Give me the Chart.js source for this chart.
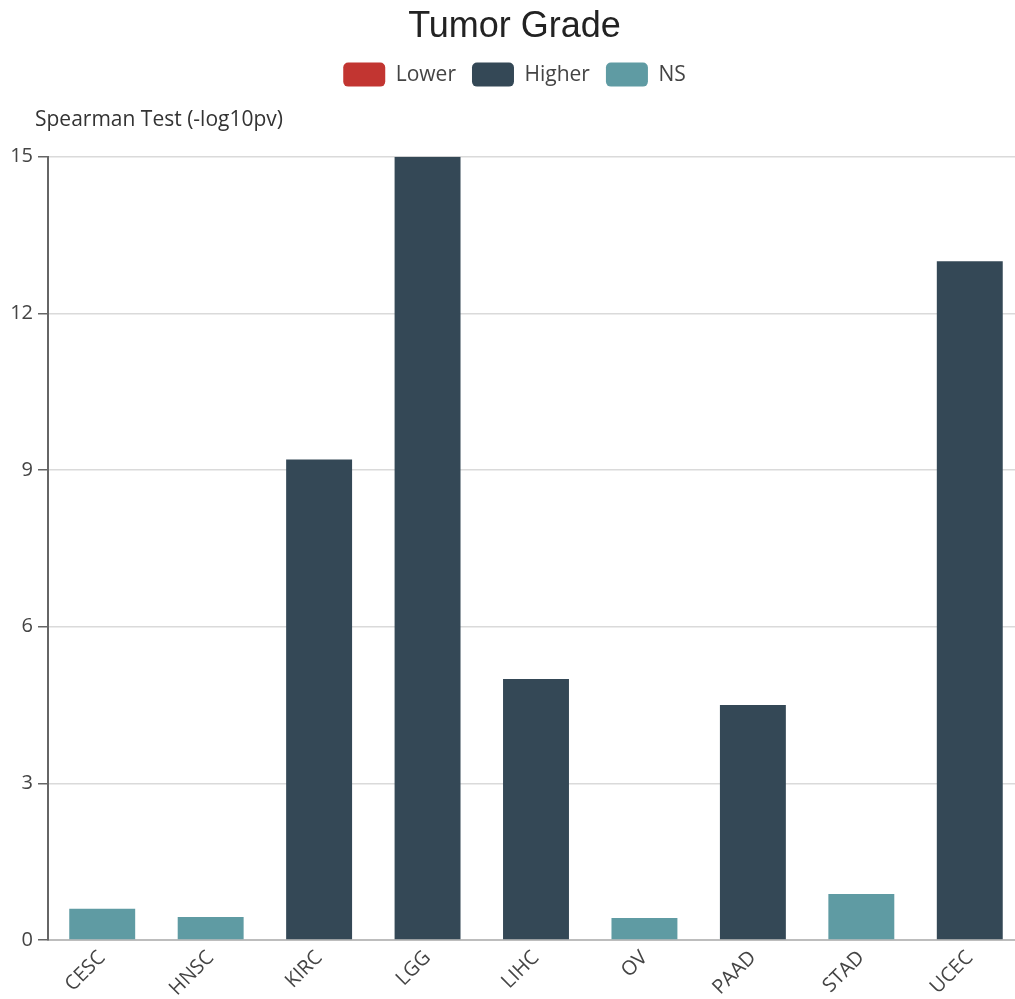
<!DOCTYPE html>
<html>
<head>
<meta charset="utf-8">
<title>Tumor Grade</title>
<script src="https://cdn.jsdelivr.net/npm/chart.js@4.4.1/dist/chart.umd.min.js"></script>
<style>
  html, body { margin: 0; padding: 0; background: #ffffff; overflow: hidden; }
  /* the plot runs a little past the right edge of the visible frame */
  #wrap { width: 1015px; height: 999px; position: relative; overflow: hidden; }
</style>
</head>
<body>
<div id="wrap"><canvas id="chart" width="1024" height="999"></canvas></div>
<script>
// Cancer types along the x axis
const categories = ['CESC', 'HNSC', 'KIRC', 'LGG', 'LIHC', 'OV', 'PAAD', 'STAD', 'UCEC'];
// Spearman test significance (-log10 p-value) per group; null where the group does not apply
const lowerValues  = [null, null, null, null, null, null, null, null, null];
const higherValues = [null, null, 9.2, 15, 5.0, null, 4.5, null, 13.0];
const nsValues     = [0.6, 0.44, null, null, null, 0.42, null, 0.88, null];
// Y axis ticks
const yTicks = [0, 3, 6, 9, 12, 15];
const yAxisName = 'Spearman Test (-log10pv)';

const uiFont = "'Open Sans', 'Noto Sans', sans-serif";

// Moves the axis-name subtitle to sit just left of the y axis
const axisNamePlacement = {
  id: 'axisNamePlacement',
  afterLayout(chart) {
    chart.boxes.forEach(b => {
      if (b.options && b.options.text === yAxisName) {
        b.left = 35;
        b.right = 35 + 400;
      }
    });
  }
};

new Chart(document.getElementById('chart'), {
  type: 'bar',
  data: {
    labels: categories,
    datasets: [
      { label: 'Lower',  data: lowerValues,  backgroundColor: '#c23531' },
      { label: 'Higher', data: higherValues, backgroundColor: '#344856' },
      { label: 'NS',     data: nsValues,     backgroundColor: '#5f9ba3' }
    ]
  },
  options: {
    responsive: false,
    animation: false,
    devicePixelRatio: 1,
    layout: { padding: { left: 5, right: 0, top: 0, bottom: 0 } },
    datasets: { bar: { barPercentage: 0.608, categoryPercentage: 1.0 } },
    plugins: {
      title: {
        display: true,
        text: 'Tumor Grade',
        color: '#222222',
        font: { family: "'Liberation Sans', Arial, sans-serif", size: 36, weight: 'normal', lineHeight: 1.1 },
        padding: { top: 7, bottom: 0 }
      },
      legend: {
        display: true,
        labels: {
          boxWidth: 42,
          boxHeight: 24,
          useBorderRadius: true,
          borderRadius: 5,
          padding: 16,
          color: '#444444',
          font: { family: uiFont, size: 21 }
        }
      },
      subtitle: {
        display: true,
        text: yAxisName,
        align: 'start',
        weight: 500,
        color: '#333333',
        font: { family: uiFont, size: 21, weight: 'normal', lineHeight: 1.15 },
        padding: { top: 11, bottom: 25 }
      },
      tooltip: { enabled: false }
    },
    scales: {
      x: {
        stacked: true,
        grid: { display: false, drawTicks: false },
        border: { display: true, color: '#bdbdbd', width: 2 },
        ticks: {
          minRotation: 45,
          maxRotation: 45,
          autoSkip: false,
          padding: 6,
          color: '#444444',
          font: { family: uiFont, size: 20 }
        },
        afterFit(scale) { scale.height = 59; }
      },
      y: {
        stacked: true,
        min: 0,
        max: 15,
        afterBuildTicks(scale) { scale.ticks = yTicks.map(v => ({ value: v })); },
        grid: { color: '#dadada', lineWidth: 1.5, tickLength: 10, tickColor: '#666666', drawTicks: true },
        border: { display: true, color: '#666666', width: 2 },
        ticks: {
          padding: 5,
          color: '#444444',
          font: { family: uiFont, size: 20 }
        },
        afterFit(scale) { scale.width = 43; }
      }
    }
  },
  plugins: [axisNamePlacement]
});
</script>
</body>
</html>
